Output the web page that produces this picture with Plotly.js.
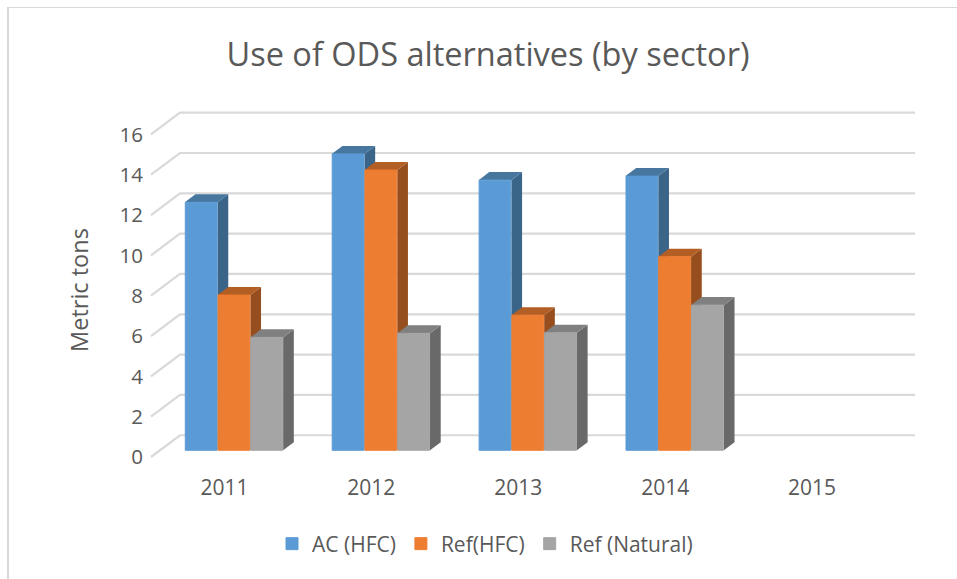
<!DOCTYPE html>
<html><head><meta charset="utf-8">
<script src="https://cdn.plot.ly/plotly-3.0.1.min.js"></script>
<style>
html,body{margin:0;padding:0;background:#fff;overflow:hidden}
#frame{position:absolute;left:7px;top:7px;width:950px;height:572px;border-left:2px solid #d9d9d9;border-top:1px solid #d9d9d9;box-sizing:border-box}
#chart{position:absolute;left:0;top:0;width:957px;height:579px}
</style></head><body>
<div id="frame"></div><div id="chart"></div>
<script>
const years = ['2011','2012','2013','2014','2015'];
const acHfc = [12.3,14.7,13.4,13.6,null];
const refHfc = [7.7,13.9,6.7,9.6,null];
const refNatural = [5.6,5.8,5.83,7.2,null];
const seriesNames = ['AC (HFC)','Ref(HFC)','Ref (Natural)'];
const yTicks = [0,2,4,6,8,10,12,14,16];

const frontColors = ['#5B9BD5','#ED7D31','#A5A5A5'];
const sideColors = ['#3A6488','#964E1E','#696969'];
const topColors = ['#47769F','#B35E24','#808080'];
const gridColor = '#d9d9d9';
const textColor = '#595959';
const font = '"Open Sans", sans-serif';

// oblique projection constants, in axis units
const PX_X = 147, PX_Y = 20.125;
const wallDx = 29/PX_X, wallDy = 21.7/PX_Y;
const barDx = 10.7/PX_X, barDy = 8/PX_Y;
const floorY = 6.7/PX_Y;
const barW = 32.8/PX_X, groupStart = -0.27, edge = 1/PX_X;
const xMin = -0.5, xMax = xMin + 764.5/PX_X;
const marginTop = 123.3;
const yMax = (456.7-marginTop)/PX_Y;

const all = [acHfc, refHfc, refNatural];
const catIdx = years.map((_,i)=>i);
const traces = [];

// front faces: real bars, on the overlay axes so they sit above depth faces
all.forEach((vals,s)=>{
  traces.push({type:'bar',x:catIdx,y:vals,base:floorY,width:barW-edge,offset:groupStart+s*barW+edge/2,
    name:seriesNames[s],xaxis:'x2',yaxis:'y2',
    marker:{color:frontColors[s],line:{color:frontColors[s],width:1}},hoverinfo:'name+y'});
});

// depth faces
all.forEach((vals,s)=>{
  vals.forEach((v,i)=>{
    if(v===null) return;
    const l=i+groupStart+s*barW, r=l+barW, b=floorY, t=floorY+v;
    traces.push({type:'scatter',mode:'lines',fill:'toself',fillcolor:sideColors[s],line:{width:0},
      x:[r,r+barDx,r+barDx,r,r],y:[b,b+barDy,t+barDy,t,b],showlegend:false,hoverinfo:'skip'});
    traces.push({type:'scatter',mode:'lines',fill:'toself',fillcolor:topColors[s],line:{width:0},
      x:[l,r,r+barDx,l+barDx,l],y:[t,t,t+barDy,t+barDy,t],showlegend:false,hoverinfo:'skip'});
  });
});

// back-wall gridlines with the diagonal floor-to-wall segment (may rise above the plot area)
const px = v => (v-xMin)/(xMax-xMin), py = v => v/yMax;
const shapes = yTicks.map(t=>({type:'path',xref:'paper',yref:'paper',layer:'below',
  path:`M${px(xMin)},${py(t)} L${px(xMin+wallDx)},${py(t+wallDy)} L${px(xMax)},${py(t+wallDy)}`,
  line:{color:gridColor,width:2.2}}));

const layout = {
  width:957,height:579,
  paper_bgcolor:'rgba(0,0,0,0)',plot_bgcolor:'rgba(0,0,0,0)',
  margin:{l:150.5,r:957-915,t:marginTop,b:579-456.7,pad:0},
  font:{family:font,color:textColor,size:18},
  title:{text:'Use of ODS alternatives (by sector)',x:488/957,xanchor:'center',y:1-55/579,yanchor:'middle',
    font:{family:font,size:32.5,color:textColor}},
  barmode:'overlay',
  shapes:shapes,
  xaxis:{range:[xMin,xMax],tickmode:'array',tickvals:catIdx,ticktext:years,showgrid:false,zeroline:false,showline:false,
    ticks:'outside',ticklen:12,tickcolor:'rgba(0,0,0,0)',tickfont:{family:font,size:21,color:textColor}},
  yaxis:{range:[0,yMax],tickmode:'array',tickvals:yTicks,showgrid:false,zeroline:false,showline:false,
    ticks:'outside',ticklen:3,tickcolor:'rgba(0,0,0,0)',tickfont:{family:font,size:20.5,color:textColor},
    title:{text:'Metric tons',standoff:24,font:{family:font,size:23.5,color:textColor}}},
  xaxis2:{range:[xMin,xMax],overlaying:'x',visible:false},
  yaxis2:{range:[0,yMax],overlaying:'y',visible:false},
  showlegend:true,
  legend:{orientation:'h',x:272/957,xref:'container',xanchor:'left',y:1-544/579,yref:'container',yanchor:'middle',
    font:{family:font,size:21,color:textColor},itemwidth:30,traceorder:'normal'}
};
Plotly.newPlot('chart',traces,layout,{displayModeBar:false,responsive:false});
</script>
</body></html>
